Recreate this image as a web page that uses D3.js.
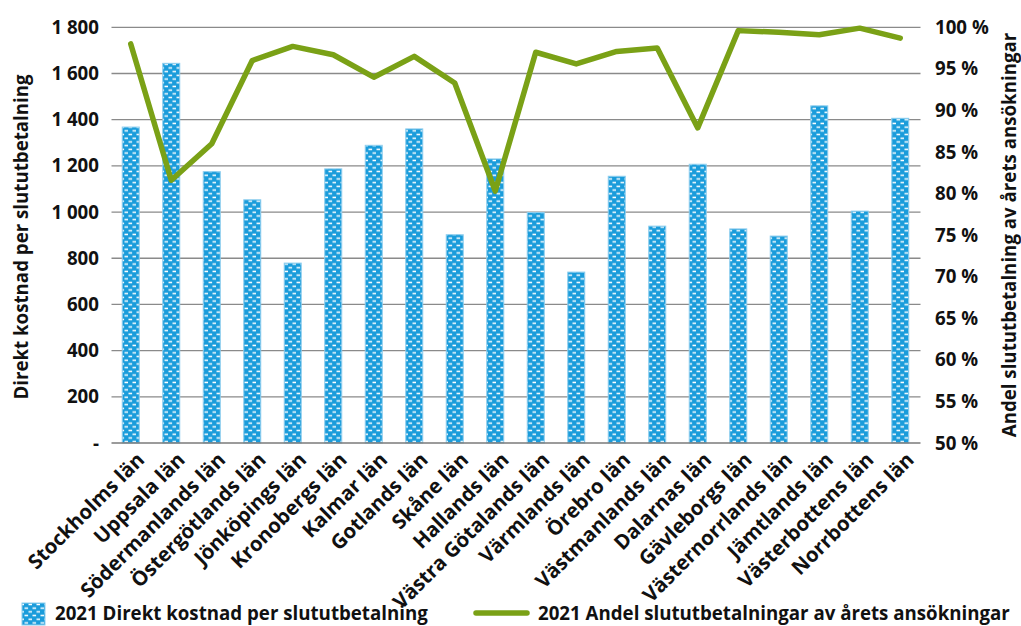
<!DOCTYPE html>
<html><head><meta charset="utf-8">
<script src="https://cdn.jsdelivr.net/npm/d3@7/dist/d3.min.js"></script>
<style>
html,body{margin:0;padding:0;background:#fff;}
svg{display:block;font-family:"Open Sans",sans-serif;font-weight:700;}
</style></head><body>
<svg id="c" width="1021" height="626"></svg>
<script>
const categories = ["Stockholms län","Uppsala län","Södermanlands län","Östergötlands län","Jönköpings län","Kronobergs län","Kalmar län","Gotlands län","Skåne län","Hallands län","Västra Götalands län","Värmlands län","Örebro län","Västmanlands län","Dalarnas län","Gävleborgs län","Västernorrlands län","Jämtlands län","Västerbottens län","Norrbottens län"];
const costValues = [1368,1644,1175,1053,779,1187,1289,1360,902,1230,998,740,1155,939,1207,927,896,1460,1004,1406];
const shareValues = [98.0,81.6,86.0,96.0,97.7,96.7,94.0,96.5,93.3,80.3,97.0,95.6,97.1,97.5,87.9,99.6,99.4,99.1,99.9,98.7];
const leftTicks = [0,200,400,600,800,1000,1200,1400,1600,1800];
const leftTickLabels = ["-","200","400","600","800","1 000","1 200","1 400","1 600","1 800"];
const rightTicks = [50,55,60,65,70,75,80,85,90,95,100];
const seriesNames = ["2021 Direkt kostnad per slututbetalning","2021 Andel slututbetalningar av årets ansökningar"];
const axisTitles = ["Direkt kostnad per slututbetalning","Andel slututbetalning av årets ansökningar"];

const svg = d3.select("#c");
const X0 = 110.5, X1 = 920.5, Y0 = 443, Y1 = 27.3;
const x = d3.scaleBand().domain(categories).range([X0, X1]).paddingInner(0.58).paddingOuter(0.29);
const yL = d3.scaleLinear().domain([0,1800]).range([Y0, Y1]);
const yR = d3.scaleLinear().domain([50,100]).range([Y0, Y1]);

const BLUE = "#1a9cdb", GREEN = "#7aa116", TXT = "#111";
const FS = 18.7;
const defs = svg.append("defs");
const pat = defs.append("pattern").attr("id","bp").attr("patternUnits","userSpaceOnUse")
  .attr("width",8).attr("height",7.4);
pat.append("rect").attr("width",8).attr("height",7.4).attr("fill",BLUE);
pat.append("rect").attr("x",0.5).attr("y",0.6).attr("width",3.6).attr("height",1.5).attr("fill","#fff");
pat.append("rect").attr("x",4.5).attr("y",4.3).attr("width",3.6).attr("height",1.5).attr("fill","#fff");

// gridlines
svg.append("g").selectAll("line").data(leftTicks.slice(1)).join("line")
  .attr("x1",X0+1).attr("x2",X1).attr("y1",d=>yL(d)).attr("y2",d=>yL(d))
  .attr("stroke","#8a8a8a").attr("stroke-width",1.3);

// bars
svg.append("g").selectAll("rect").data(categories).join("rect")
  .attr("x",d=>x(d)).attr("width",x.bandwidth())
  .attr("y",(d,i)=>yL(costValues[i])).attr("height",(d,i)=>Y0-yL(costValues[i]))
  .attr("fill","url(#bp)").attr("stroke","#8ccdee").attr("stroke-width",1);

// baseline
svg.append("line").attr("x1",X0+1).attr("x2",X1).attr("y1",Y0).attr("y2",Y0)
  .attr("stroke","#7a7a7a").attr("stroke-width",1.5);

// line
const line = d3.line().x((d,i)=>x(categories[i])+x.bandwidth()/2).y(d=>yR(d));
svg.append("path").datum(shareValues).attr("d",line).attr("fill","none")
  .attr("stroke",GREEN).attr("stroke-width",5.5).attr("stroke-linejoin","round").attr("stroke-linecap","round");

// left axis labels
svg.append("g").selectAll("text").data(leftTicks).join("text")
  .attr("x",99).attr("y",d=>yL(d)).attr("dy","0.35em").attr("text-anchor","end")
  .attr("font-size",FS).attr("fill",TXT).text((d,i)=>leftTickLabels[i]);

// right axis labels
svg.append("g").selectAll("text").data(rightTicks).join("text")
  .attr("x",935).attr("y",d=>yR(d)).attr("dy","0.35em").attr("text-anchor","start")
  .attr("font-size",FS).attr("fill",TXT).text(d=>d+" %");

// category labels
svg.append("g").selectAll("text").data(categories).join("text")
  .attr("transform",d=>`translate(${x(d)+x.bandwidth()/2+5},${Y0+8}) rotate(-45)`)
  .attr("text-anchor","end").attr("dy","0.7em")
  .attr("font-size",20.3).attr("fill",TXT).text(d=>d);

// axis titles
svg.append("text").attr("transform",`translate(28,237) rotate(-90)`).attr("text-anchor","middle")
  .attr("font-size",FS).attr("fill",TXT).text(axisTitles[0]);
svg.append("text").attr("transform",`translate(1016,235) rotate(-90)`).attr("text-anchor","middle")
  .attr("font-size",FS).attr("fill",TXT).text(axisTitles[1]);

// legend
const lg = svg.append("g");
lg.append("rect").attr("x",22).attr("y",603).attr("width",23).attr("height",22)
  .attr("fill","url(#bp)").attr("stroke","#8ccdee");
lg.append("text").attr("x",55).attr("y",620).attr("font-size",FS).attr("fill",TXT).text(seriesNames[0]);
lg.append("line").attr("x1",476).attr("x2",527).attr("y1",613).attr("y2",613)
  .attr("stroke",GREEN).attr("stroke-width",5.5).attr("stroke-linecap","round");
lg.append("text").attr("x",538).attr("y",620).attr("font-size",FS).attr("fill",TXT).text(seriesNames[1]);
</script></body></html>
